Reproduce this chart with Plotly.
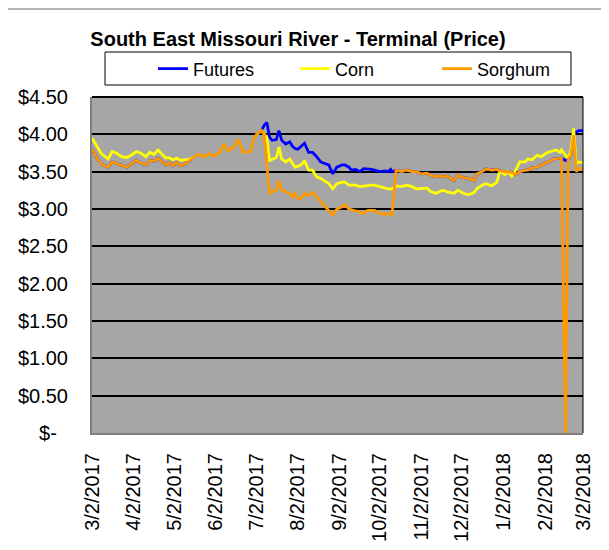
import plotly.graph_objects as go

dates = [
    "2017-03-02", "2017-03-06", "2017-03-09", "2017-03-12", "2017-03-14", "2017-03-17", "2017-03-20",
    "2017-03-24", "2017-03-28", "2017-03-31", "2017-04-04", "2017-04-07", "2017-04-11", "2017-04-14",
    "2017-04-17", "2017-04-20", "2017-04-23", "2017-04-26", "2017-04-28", "2017-05-01", "2017-05-04",
    "2017-05-07", "2017-05-10", "2017-05-13", "2017-05-17", "2017-05-21", "2017-05-25", "2017-05-28",
    "2017-06-01", "2017-06-05", "2017-06-08", "2017-06-11", "2017-06-15", "2017-06-19", "2017-06-22",
    "2017-06-25", "2017-06-28", "2017-06-30", "2017-07-03", "2017-07-06", "2017-07-08", "2017-07-10",
    "2017-07-12", "2017-07-14", "2017-07-17", "2017-07-19", "2017-07-21", "2017-07-24", "2017-07-27",
    "2017-07-29", "2017-07-31", "2017-08-02", "2017-08-05", "2017-08-07", "2017-08-10", "2017-08-13",
    "2017-08-16", "2017-08-19", "2017-08-22", "2017-08-25", "2017-08-28", "2017-08-31", "2017-09-04",
    "2017-09-06", "2017-09-09", "2017-09-11", "2017-09-14", "2017-09-17", "2017-09-20", "2017-09-23",
    "2017-09-26", "2017-09-28", "2017-10-02", "2017-10-06", "2017-10-08", "2017-10-10", "2017-10-11",
    "2017-10-14", "2017-10-18", "2017-10-22", "2017-10-26", "2017-10-29", "2017-11-02", "2017-11-06",
    "2017-11-09", "2017-11-13", "2017-11-16", "2017-11-18", "2017-11-21", "2017-11-26", "2017-11-29",
    "2017-12-03", "2017-12-07", "2017-12-11", "2017-12-13", "2017-12-17", "2017-12-20", "2017-12-24",
    "2017-12-28", "2017-12-30", "2018-01-03", "2018-01-05", "2018-01-08", "2018-01-11", "2018-01-14",
    "2018-01-18", "2018-01-20", "2018-01-23", "2018-01-27", "2018-01-30", "2018-02-02", "2018-02-04",
    "2018-02-08", "2018-02-10", "2018-02-13", "2018-02-14", "2018-02-17", "2018-02-19", "2018-02-21",
    "2018-02-23", "2018-02-25", "2018-02-27", "2018-03-02",
]

futures = [
    3.81, 3.67, 3.60, 3.57, 3.56, 3.63, 3.61,
    3.58, 3.56, 3.60, 3.65, 3.62, 3.59, 3.65,
    3.64, 3.68, 3.63, 3.59, 3.62, 3.58, 3.62,
    3.58, 3.60, 3.64, 3.70, 3.73, 3.70, 3.74,
    3.71, 3.76, 3.87, 3.78, 3.82, 3.93, 3.76,
    3.77, 3.77, 3.94, 4.01, 4.05, 4.12, 4.16,
    3.96, 3.92, 3.93, 4.05, 3.92, 3.87, 3.90,
    3.84, 3.81, 3.80, 3.85, 3.88, 3.76, 3.76,
    3.70, 3.63, 3.61, 3.59, 3.47, 3.56, 3.59,
    3.59, 3.56, 3.52, 3.53, 3.50, 3.54, 3.54,
    3.53, 3.52, 3.50, 3.51, 3.50, 3.53, 3.50,
    3.52, 3.50, 3.52, 3.50, 3.50, 3.47, 3.48,
    3.45, 3.43, 3.45, 3.43, 3.44, 3.38, 3.45,
    3.42, 3.41, 3.38, 3.47, 3.50, 3.54, 3.52,
    3.53, 3.51, 3.50, 3.49, 3.49, 3.46, 3.50,
    3.52, 3.52, 3.55, 3.56, 3.59, 3.61, 3.63,
    3.67, 3.67, 3.67, 3.68, 3.65, 3.66, 3.72,
    4.00, 4.03, 4.05, 4.05,
]

corn = [
    3.95, 3.83, 3.74, 3.70, 3.67, 3.77, 3.75,
    3.70, 3.69, 3.72, 3.77, 3.75, 3.70, 3.76,
    3.73, 3.79, 3.73, 3.68, 3.69, 3.66, 3.68,
    3.65, 3.66, 3.66, 3.70, 3.73, 3.70, 3.74,
    3.71, 3.76, 3.87, 3.78, 3.82, 3.93, 3.76,
    3.77, 3.77, 3.94, 4.01, 4.05, 4.00, 3.96,
    3.65, 3.67, 3.69, 3.83, 3.67, 3.63, 3.67,
    3.61, 3.56, 3.57, 3.60, 3.65, 3.52, 3.52,
    3.43, 3.41, 3.37, 3.34, 3.27, 3.34, 3.36,
    3.36, 3.32, 3.32, 3.32, 3.30, 3.31, 3.32,
    3.32, 3.32, 3.30, 3.27, 3.27, 3.27, 3.27,
    3.31, 3.30, 3.32, 3.30, 3.27, 3.28, 3.28,
    3.23, 3.21, 3.24, 3.25, 3.23, 3.21, 3.25,
    3.21, 3.19, 3.22, 3.27, 3.32, 3.34, 3.31,
    3.36, 3.50, 3.46, 3.50, 3.44, 3.52, 3.63,
    3.63, 3.67, 3.66, 3.72, 3.70, 3.74, 3.76,
    3.78, 3.79, 3.76, 3.79, 3.72, 3.68, 3.78,
    4.08, 3.61, 3.63, 3.62,
]

sorghum = [
    3.81, 3.67, 3.60, 3.57, 3.56, 3.63, 3.61,
    3.58, 3.56, 3.60, 3.65, 3.62, 3.59, 3.65,
    3.64, 3.68, 3.63, 3.59, 3.62, 3.58, 3.62,
    3.58, 3.60, 3.64, 3.70, 3.73, 3.70, 3.74,
    3.71, 3.76, 3.87, 3.78, 3.82, 3.93, 3.76,
    3.77, 3.77, 3.94, 4.01, 4.05, 3.99, 3.58,
    3.21, 3.23, 3.25, 3.38, 3.25, 3.23, 3.21,
    3.16, 3.21, 3.14, 3.15, 3.21, 3.18, 3.22,
    3.16, 3.09, 3.04, 2.98, 2.92, 3.00, 3.03,
    3.06, 3.00, 2.99, 2.98, 2.96, 2.94, 2.98,
    2.98, 2.98, 2.94, 2.93, 2.94, 2.92, 2.92,
    3.52, 3.50, 3.52, 3.50, 3.50, 3.47, 3.48,
    3.45, 3.43, 3.45, 3.43, 3.44, 3.38, 3.45,
    3.42, 3.41, 3.38, 3.47, 3.50, 3.54, 3.52,
    3.53, 3.51, 3.50, 3.49, 3.49, 3.46, 3.50,
    3.52, 3.52, 3.55, 3.56, 3.59, 3.61, 3.63,
    3.67, 3.67, 3.67, 3.68, 0.00, 3.67, 3.71,
    3.99, 3.50, 3.54, 3.54,
]

x_tick_vals = ["2017-03-02", "2017-04-02", "2017-05-02", "2017-06-02", "2017-07-02", "2017-08-02",
               "2017-09-02", "2017-10-02", "2017-11-02", "2017-12-02", "2018-01-02", "2018-02-02",
               "2018-03-02"]
x_tick_text = ["3/2/2017", "4/2/2017", "5/2/2017", "6/2/2017", "7/2/2017", "8/2/2017", "9/2/2017",
               "10/2/2017", "11/2/2017", "12/2/2017", "1/2/2018", "2/2/2018", "3/2/2018"]
y_tick_vals = [0, 0.5, 1.0, 1.5, 2.0, 2.5, 3.0, 3.5, 4.0, 4.5]
y_tick_text = ["$-\u00a0\u00a0", "$0.50", "$1.00", "$1.50", "$2.00", "$2.50", "$3.00", "$3.50",
               "$4.00", "$4.50"]

FONT = "Arial, Liberation Sans, sans-serif"
# The page body has an 8px margin, so the figure is drawn 8px in from the window edge.
OFF = 8
W, H = 609 - OFF, 550 - 2 * OFF
L, R, T, B = 92 - OFF, 583 - OFF, 97 - OFF, 433 - OFF
pw, ph = R - L, B - T


def px(xs):
    """screen x -> paper x"""
    return (xs - OFF - L) / pw


def py(ys):
    """screen y -> paper y"""
    return (B - (ys - OFF)) / ph


fig = go.Figure()
fig.add_trace(go.Scatter(x=dates, y=futures, name="Futures", mode="lines",
                         line=dict(color="#0000FF", width=2.75)))
fig.add_trace(go.Scatter(x=dates, y=corn, name="Corn", mode="lines",
                         line=dict(color="#FFFF00", width=2.75)))
fig.add_trace(go.Scatter(x=dates, y=sorghum, name="Sorghum", mode="lines",
                         line=dict(color="#FF9900", width=2.75)))

shapes = [
    # legend box
    dict(type="rect", xref="paper", yref="paper", x0=px(105), x1=px(571), y0=py(85), y1=py(52),
         line=dict(color="black", width=1), fillcolor="white", layer="below"),
    # plot top & right border
    dict(type="line", xref="paper", yref="paper", x0=0, x1=1, y0=1, y1=1,
         line=dict(color="black", width=2)),
    dict(type="line", xref="paper", yref="paper", x0=1, x1=1, y0=0, y1=1,
         line=dict(color="black", width=1)),
    # outer chart frame
    dict(type="line", xref="paper", yref="paper", x0=px(OFF), x1=px(607), y0=py(OFF + 1), y1=py(OFF + 1),
         line=dict(color="#B4B4B4", width=2)),
    dict(type="line", xref="paper", yref="paper", x0=px(606.5), x1=px(606.5), y0=py(OFF + 1), y1=py(550),
         line=dict(color="#B4B4B4", width=2)),
]

fig.update_layout(
    width=W, height=H,
    margin=dict(l=L, r=W - R, t=T, b=H - B, pad=0, autoexpand=False),
    paper_bgcolor="white",
    plot_bgcolor="#A6A6A6",
    font=dict(family=FONT, color="black"),
    title=dict(text="<b>South East Missouri River - Terminal (Price)</b>",
               x=(298 - OFF) / W, xanchor="center", y=1 - (39 - OFF) / H, yanchor="middle",
               font=dict(size=20, family=FONT, color="black")),
    showlegend=True,
    legend=dict(orientation="h", x=px(153), xanchor="left", y=py(69), yanchor="middle",
                bgcolor="rgba(0,0,0,0)", borderwidth=0, font=dict(size=18, family=FONT),
                entrywidth=97, entrywidthmode="pixels", traceorder="normal"),
    shapes=shapes,
    xaxis=dict(type="date", range=["2017-03-02", "2018-03-02"], showgrid=False, zeroline=False,
               tickmode="array", tickvals=x_tick_vals, ticktext=x_tick_text, tickangle=-90,
               tickfont=dict(size=20, family=FONT, color="black"), ticks="",
               ticklabelstandoff=10, automargin=False,
               showline=True, linecolor="#808080", linewidth=2),
    yaxis=dict(range=[0, 4.5], tickmode="array", tickvals=y_tick_vals, ticktext=y_tick_text,
               tickfont=dict(size=20, family=FONT, color="black"), ticks="",
               ticklabelstandoff=18, automargin=False,
               showgrid=True, gridcolor="black", gridwidth=2, zeroline=False,
               showline=True, linecolor="#808080", linewidth=2),
)

fig.write_html("out.html")
